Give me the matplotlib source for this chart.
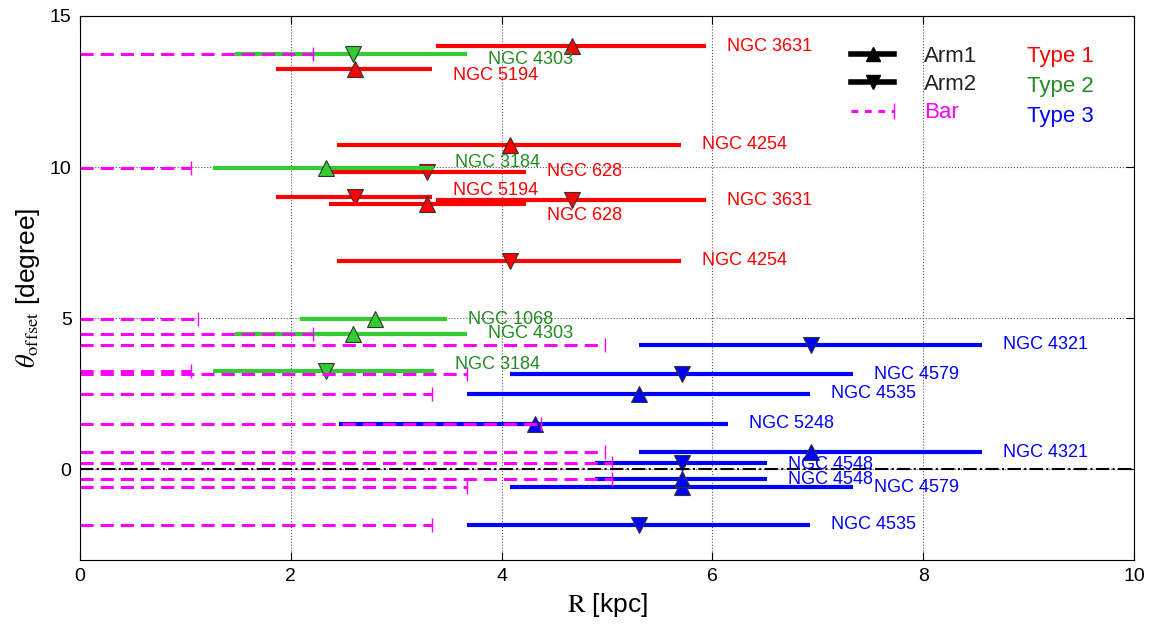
import numpy as np
import matplotlib
matplotlib.use("Agg")
import matplotlib.pyplot as plt
from matplotlib.lines import Line2D
from matplotlib.legend_handler import HandlerBase

plt.rcParams['font.family'] = ['Liberation Sans', 'DejaVu Sans']
plt.rcParams['mathtext.fontset'] = 'stix'

# one entry per spiral arm; radii in kpc, offset angle in degrees
NAMES = ["NGC 3631", "NGC 3631", "NGC 5194", "NGC 5194",
         "NGC 4254", "NGC 4254", "NGC 628", "NGC 628",
         "NGC 4303", "NGC 4303", "NGC 3184", "NGC 3184", "NGC 1068",
         "NGC 4321", "NGC 4321", "NGC 4579", "NGC 4579",
         "NGC 4535", "NGC 4535", "NGC 5248", "NGC 4548", "NGC 4548"]
TYPES = [1, 1, 1, 1, 1, 1, 1, 1,
         2, 2, 2, 2, 2,
         3, 3, 3, 3, 3, 3, 3, 3, 3]
ARMS = [1, 2, 1, 2, 1, 2, 1, 2,
        1, 2, 1, 2, 1,
        1, 2, 1, 2, 1, 2, 1, 1, 2]
R_MIN = [3.38, 3.38, 1.86, 1.86, 2.44, 2.44, 2.36, 2.36,
         1.47, 1.47, 1.26, 1.26, 2.09,
         5.30, 5.30, 4.08, 4.08, 3.67, 3.67, 2.46, 4.89, 4.89]
R_MAX = [5.94, 5.94, 3.34, 3.34, 5.70, 5.70, 4.23, 4.23,
         3.67, 3.67, 3.36, 3.36, 3.48,
         8.56, 8.56, 7.33, 7.33, 6.93, 6.93, 6.15, 6.52, 6.52]
R_PEAK = [4.67, 4.67, 2.61, 2.61, 4.08, 4.08, 3.29, 3.29,
          2.59, 2.59, 2.33, 2.33, 2.80,
          6.94, 6.94, 5.71, 5.71, 5.30, 5.30, 4.32, 5.71, 5.71]
THETA = [14.0, 8.90, 13.24, 9.01, 10.74, 6.90, 8.78, 9.84,
         4.49, 13.74, 9.98, 3.25, 4.96,
         0.56, 4.13, -0.60, 3.14, 2.50, -1.84, 1.50, -0.33, 0.20]
R_BAR = [np.nan] * 8 + [2.21, 2.21, 1.05, 1.05, 1.12,
                        4.98, 4.98, 3.67, 3.67, 3.34, 3.34, 4.37, 5.05, 5.05]

# small vertical nudges of the galaxy name labels
LABEL_DY = [0, 0, -0.2, 0.2, 0, 0, -0.38, 0,
            0, -0.17, 0.18, 0.22, 0,
            0, 0, 0, 0, 0, 0, 0, 0, -0.03]

LINE_COLORS = {1: "red", 2: "#33cc33", 3: "blue"}
TEXT_COLORS = {1: "red", 2: "#228b22", 3: "blue"}
BAR_DASH = (0, (4.3, 2.3))

fig = plt.figure(figsize=(11.52, 6.25), dpi=100)
ax = fig.add_axes([0.0694, 0.104, 0.9149, 0.8704])

for i in range(len(NAMES)):
    t = TYPES[i]
    ax.plot([R_MIN[i], R_MAX[i]], [THETA[i], THETA[i]], color=LINE_COLORS[t],
            lw=3, solid_capstyle="butt")
    ax.plot(R_PEAK[i], THETA[i], marker="^" if ARMS[i] == 1 else "v", ms=11,
            mfc=LINE_COLORS[t], mec="#333333", mew=0.8, ls="none")
    if not np.isnan(R_BAR[i]):
        ax.plot([0, R_BAR[i]], [THETA[i], THETA[i]], color="magenta", lw=2.2,
                ls=BAR_DASH)
        ax.plot(R_BAR[i], THETA[i], marker="|", ms=10, mew=1, color="magenta")
    ax.text(R_MAX[i] + 0.2, THETA[i] + LABEL_DY[i], NAMES[i],
            color=TEXT_COLORS[t], fontsize=13, va="center")

ax.axhline(0, color="k", ls="-.", lw=1.5)

ax.set_xlim(0, 10)
ax.set_ylim(-3, 15)
ax.set_xticks([0, 2, 4, 6, 8, 10])
ax.set_yticks([0, 5, 10, 15])
ax.grid(True, ls=":", color="0.35", lw=0.8)
ax.tick_params(direction="in", top=True, right=True, length=6, labelsize=14, pad=6)
ax.set_xlabel(r"$\rm R$ [kpc]", fontsize=19)
ax.set_ylabel(r"$\theta_{\rm offset}$ [degree]", fontsize=19, labelpad=6)


class BarHandler(HandlerBase):
    def create_artists(self, legend, orig_handle, xdescent, ydescent,
                       width, height, fontsize, trans):
        y = height / 2 - ydescent
        dash = Line2D([-xdescent, width - xdescent], [y, y], color="magenta",
                      lw=2.2, ls=(0, (2.2, 2.2)))
        cap = Line2D([width - xdescent], [y], marker="|", ms=12, mew=1,
                     color="magenta")
        dash.set_transform(trans)
        cap.set_transform(trans)
        return [dash, cap]


arm1 = Line2D([], [], color="k", lw=4, marker="^", ms=10)
arm2 = Line2D([], [], color="k", lw=4, marker="v", ms=10)
bar = Line2D([], [], color="magenta")
ax.legend([arm1, arm2, bar], ["Arm1", "Arm2", "Bar"], loc="upper left",
          bbox_to_anchor=(0.713, 0.982), frameon=False, fontsize=16,
          handlelength=1.9, handletextpad=1.35, labelspacing=0.33,
          labelcolor=["#222222", "#222222", "magenta"],
          handler_map={bar: BarHandler()})

for k, (lab, yy) in enumerate(zip(["Type 1", "Type 2", "Type 3"], [0.925, 0.871, 0.816])):
    ax.text(0.899, yy, lab, transform=ax.transAxes, fontsize=16, va="center",
            color=TEXT_COLORS[k + 1])

fig.savefig("out.png", dpi=100)
